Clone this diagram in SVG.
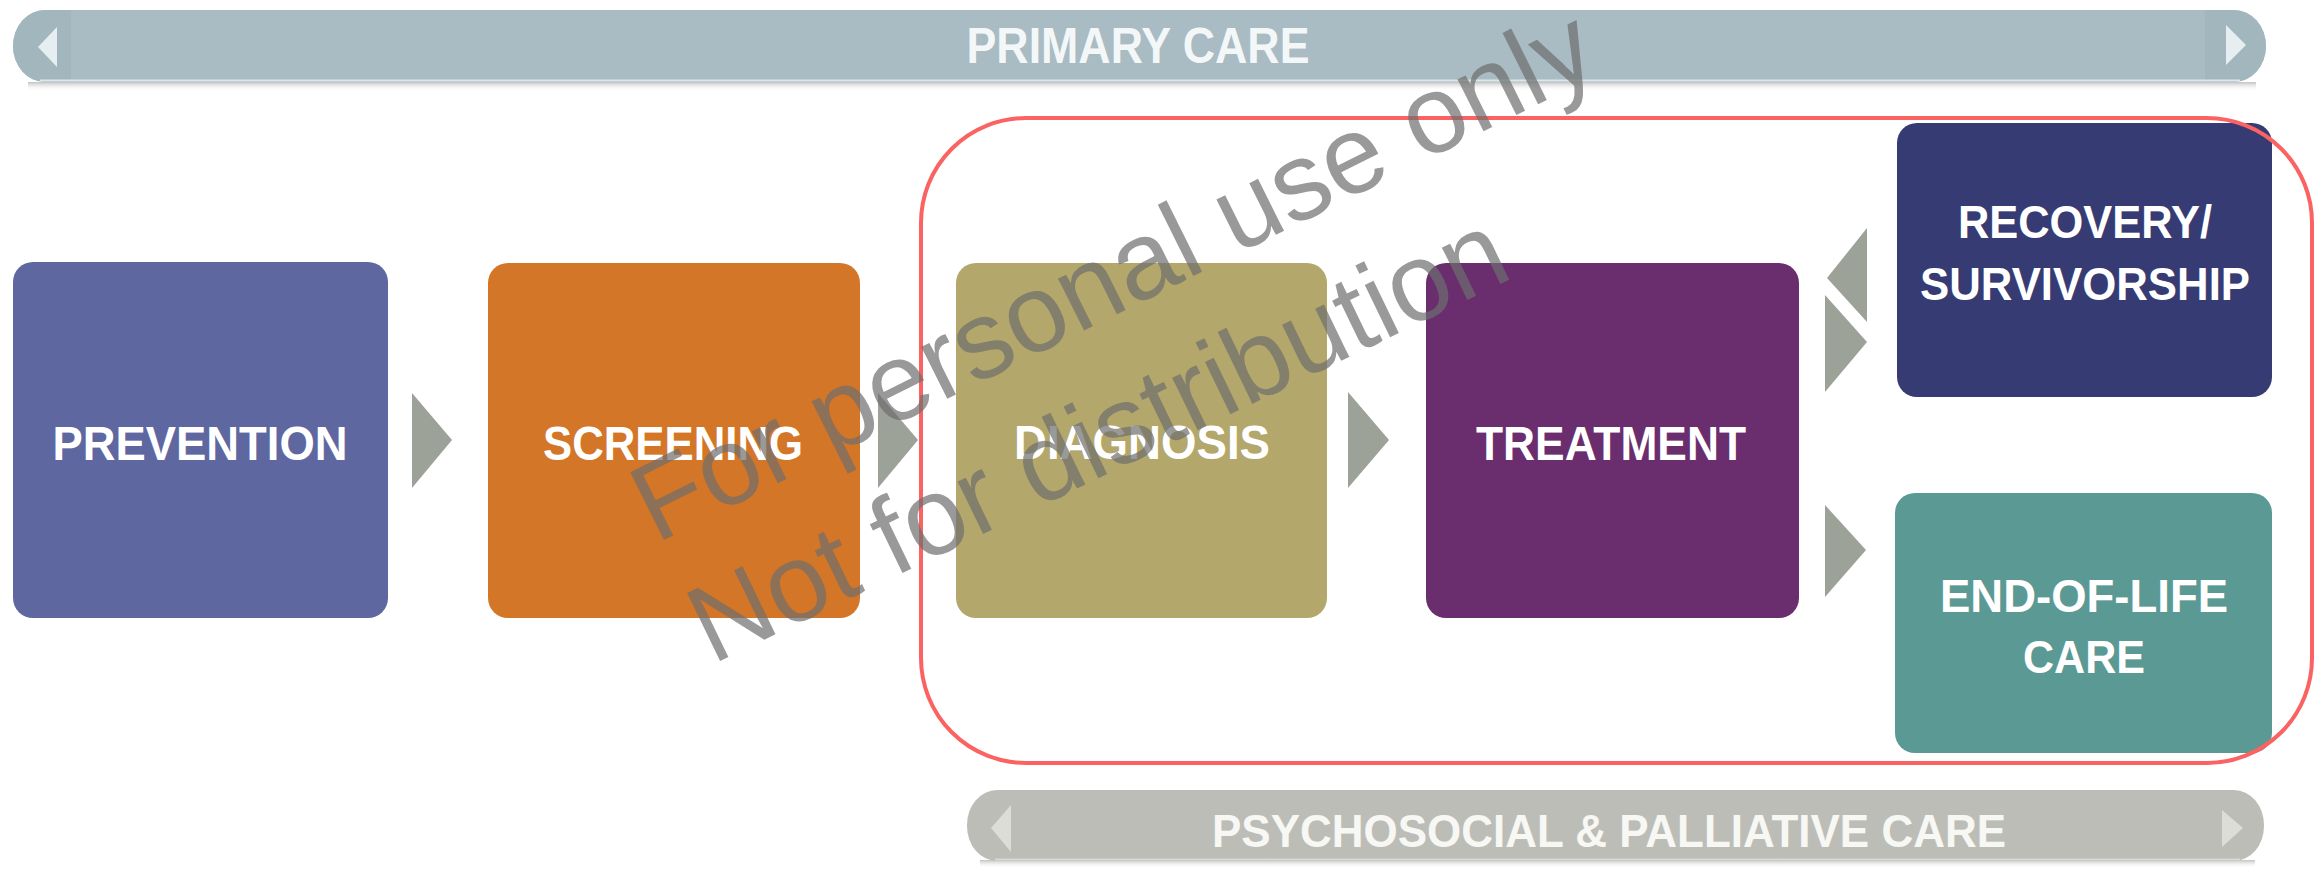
<svg xmlns="http://www.w3.org/2000/svg" width="2318" height="872" viewBox="0 0 2318 872">
<defs>
<style>
.lbl{font-family:"Liberation Sans",Arial,sans-serif;font-weight:bold;fill:#ffffff;text-anchor:middle}
.barlbl{font-family:"Liberation Sans",Arial,sans-serif;font-weight:bold;text-anchor:middle}
.arrow{fill:#9da299}
.wm{font-family:"Liberation Sans",Arial,sans-serif;font-size:110px;fill:#6e6e6e;fill-opacity:0.7}
</style>
<linearGradient id="shadow" x1="0" y1="0" x2="0" y2="1">
<stop offset="0" stop-color="#c2c2c2"/>
<stop offset="1" stop-color="#ffffff" stop-opacity="0"/>
</linearGradient>
</defs>
<rect x="0" y="0" width="2318" height="872" fill="#ffffff"/>

<g id="primary-care">
<rect x="28" y="82" width="2228" height="9" fill="url(#shadow)"/>
<rect x="13" y="10" width="2253" height="72" rx="32" ry="36" fill="#a9bbc3"/>
<path d="M71,10 H45 A32,36 0 0 0 45,82 H71 Z" fill="#a2b6be"/>
<path d="M2205,10 H2234 A32,36 0 0 1 2234,82 H2205 Z" fill="#a2b6be"/>
<line x1="40" y1="80.5" x2="2240" y2="80.5" stroke="#dde6e9" stroke-width="2"/>
<polygon points="57,27 38,47 57,67" fill="#e6eef1"/>
<polygon points="2226,25 2246,45 2226,65" fill="#e6eef1"/>
<text class="barlbl" x="1138" y="63" font-size="50" textLength="343" lengthAdjust="spacingAndGlyphs" fill="#f4f7f8">PRIMARY CARE</text>
</g>

<g id="psychosocial-palliative-care">
<rect x="980" y="860" width="1275" height="8" fill="url(#shadow)"/>
<rect x="967" y="790" width="1297" height="71" rx="30" ry="35" fill="#bdbdb8"/>
<line x1="995" y1="859.5" x2="2240" y2="859.5" stroke="#d8d8d4" stroke-width="2"/>
<polygon points="1011,805 991,828 1011,852" fill="#dcdcd8"/>
<polygon points="2222,810 2243,828 2222,847" fill="#dcdcd8"/>
<text class="barlbl" x="1609" y="847" font-size="47" textLength="794" lengthAdjust="spacingAndGlyphs" fill="#f7f7f4">PSYCHOSOCIAL &amp; PALLIATIVE CARE</text>
</g>

<g id="prevention">
<rect x="13" y="262" width="375" height="356" rx="20" fill="#5e67a0"/>
<text class="lbl" x="200" y="460" font-size="49" textLength="295" lengthAdjust="spacingAndGlyphs">PREVENTION</text>
</g>

<g id="screening">
<rect x="488" y="263" width="372" height="355" rx="20" fill="#d47627"/>
<text class="lbl" x="673" y="460" font-size="49" textLength="260" lengthAdjust="spacingAndGlyphs">SCREENING</text>
</g>

<g id="diagnosis">
<rect x="956" y="263" width="371" height="355" rx="20" fill="#b3a76b"/>
<text class="lbl" x="1142" y="459" font-size="49" textLength="256" lengthAdjust="spacingAndGlyphs">DIAGNOSIS</text>
</g>

<g id="treatment">
<rect x="1426" y="263" width="373" height="355" rx="20" fill="#6a2d6e"/>
<text class="lbl" x="1611" y="460" font-size="49" textLength="270" lengthAdjust="spacingAndGlyphs">TREATMENT</text>
</g>

<g id="recovery-survivorship">
<rect x="1897" y="123" width="375" height="274" rx="20" fill="#363c73"/>
<text class="lbl" x="2085" y="238" font-size="46" textLength="254" lengthAdjust="spacingAndGlyphs">RECOVERY/</text>
<text class="lbl" x="2085" y="300" font-size="46" textLength="330" lengthAdjust="spacingAndGlyphs">SURVIVORSHIP</text>
</g>

<g id="end-of-life-care">
<rect x="1895" y="493" width="377" height="260" rx="20" fill="#5b9995"/>
<text class="lbl" x="2084" y="612" font-size="46" textLength="288" lengthAdjust="spacingAndGlyphs">END-OF-LIFE</text>
<text class="lbl" x="2084" y="673" font-size="46" textLength="122" lengthAdjust="spacingAndGlyphs">CARE</text>
</g>

<g id="connectors">
<polygon class="arrow" points="412,393 452,440 412,488"/>
<polygon class="arrow" points="878,393 918,440 878,488"/>
<polygon class="arrow" points="1348,392 1389,440 1348,488"/>
<polygon class="arrow" points="1867,228 1827,278 1867,322"/>
<polygon class="arrow" points="1825,295 1867,342 1825,392"/>
<polygon class="arrow" points="1825,505 1866,550 1825,597"/>
</g>

<g id="focus-outline">
<rect x="921" y="118" width="1391" height="645" rx="105" fill="none" stroke="#fb6262" stroke-width="4"/>
</g>

<g id="watermark">
<text class="wm" transform="translate(656,544) rotate(-26.5)">For personal use only</text>
<text class="wm" transform="translate(712,665) rotate(-25.8)">Not for distribution</text>
</g>
</svg>
